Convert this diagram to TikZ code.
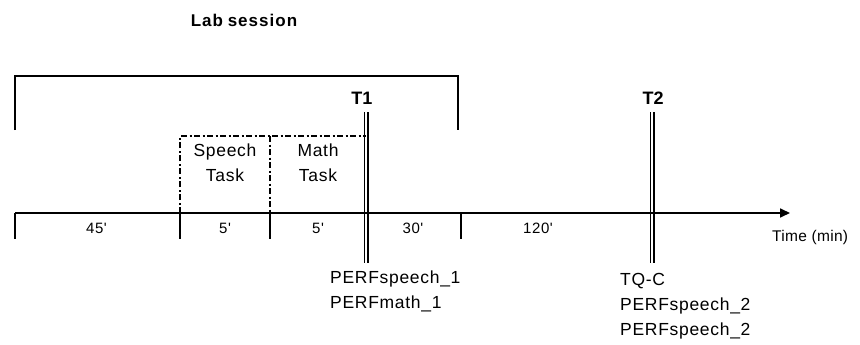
\documentclass[tikz,border=0pt]{standalone}
\usepackage{fontspec}
\setmainfont{Liberation Sans}
\newfontfamily\lblfont{Liberation Sans}[LetterSpace=4]
\usetikzlibrary{arrows.meta}
\tikzset{
  thick line/.style={line width=1.9pt},
  tick/.style={line width=1.7pt},
  dd/.style={line width=1.4pt, dash pattern=on 6pt off 2.5pt on 2pt off 2.5pt},
  seglbl/.style={font=\fontsize{15}{17}\selectfont\lblfont, inner sep=0pt},
  tasklbl/.style={font=\fontsize{17.5}{25}\selectfont\lblfont, align=center, inner sep=0pt},
  tlbl/.style={font=\fontsize{18}{20}\selectfont\bfseries, inner sep=0pt},
  meas/.style={font=\fontsize{17.5}{25}\selectfont\lblfont, align=left, inner sep=0pt, anchor=north west},
  dline/.style={line width=1.6pt},
}
\begin{document}
\begin{tikzpicture}[x=1pt, y=-1pt]
\useasboundingbox (0,0) rectangle (860,345);
% title
\node[font=\fontsize{17}{20}\selectfont\bfseries\addfontfeature{LetterSpace=6}, inner sep=0pt] (title) at (244,20) {Lab\;session};
% bracket
\coordinate (bl) at (15,130);
\coordinate (tl) at (15,76);
\coordinate (tr) at (458,76);
\coordinate (br) at (458,130);
\draw[thick line] (bl) -- (tl) -- (tr) -- (br);
% axis
\coordinate (a0) at (15,213);
\coordinate (aend) at (790,213);
\draw[line width=1.7pt, -{Triangle[length=10pt,width=9pt]}] (a0) -- (aend);
% ticks
\foreach \n/\x in {t0/15, t1/180, t2/270, t3/461} {
  \coordinate (\n top) at (\x,213);
  \coordinate (\n bot) at (\x,239);
  \draw[tick] (\n top) -- (\n bot);
}
% dash-dot box
\coordinate (bx1) at (180,213);
\coordinate (bx2) at (180,136);
\coordinate (bx3) at (366,136);
\coordinate (bm1) at (270,136);
\coordinate (bm2) at (270,213);
\draw[dd] (bx1) -- (bx2) -- (bx3);
\draw[dd] (bm1) -- (bm2);
% T1 and T2 double lines
\coordinate (T1atop) at (364.4,112);
\coordinate (T1abot) at (364.4,263);
\coordinate (T1btop) at (367.9,112);
\coordinate (T1bbot) at (367.9,263);
\coordinate (T2atop) at (650.3,112);
\coordinate (T2abot) at (650.3,263);
\coordinate (T2btop) at (653.8,112);
\coordinate (T2bbot) at (653.8,263);
\draw[dline] (T1atop) -- (T1abot);
\draw[dline] (T1btop) -- (T1bbot);
\draw[dline] (T2atop) -- (T2abot);
\draw[dline] (T2btop) -- (T2bbot);
\node[tlbl] (T1) at (362,98) {T1};
\node[tlbl] (T2) at (653,98) {T2};
% task labels
\node[tasklbl] (speech) at (225,163) {Speech\\Task};
\node[tasklbl] (math) at (318,163) {Math\\Task};
% segment labels
\node[seglbl] (s45) at (96.5,228) {45'};
\node[seglbl] (s5a) at (225,228) {5'};
\node[seglbl] (s5b) at (318,228) {5'};
\node[seglbl] (s30) at (413,228) {30'};
\node[seglbl] (s120) at (538,228) {120'};
\node[font=\fontsize{15.5}{17}\selectfont\addfontfeature{LetterSpace=2}, inner sep=0pt, anchor=west] (time) at (772,237) {Time (min)};
% measurement labels
\node[meas] (m1) at (330,271) {PERFspeech\_1\\PERFmath\_1};
\node[meas] (m2) at (620,273) {TQ-C\\PERFspeech\_2\\PERFspeech\_2};
\end{tikzpicture}
\end{document}
